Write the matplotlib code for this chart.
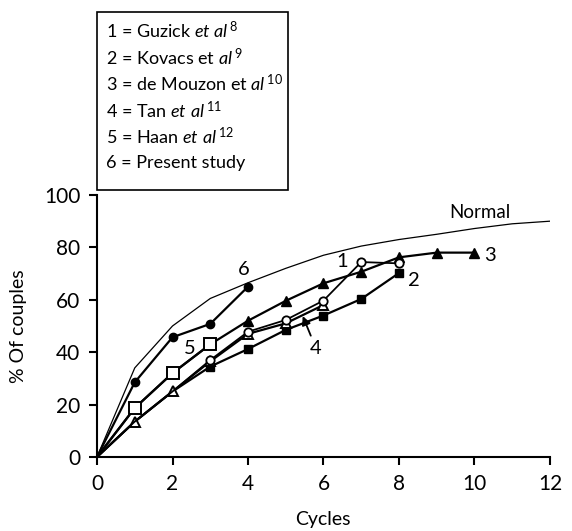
import matplotlib
matplotlib.use('Agg')
import matplotlib.pyplot as plt

plt.rcParams['font.family'] = ['Lato', 'DejaVu Sans']
plt.rcParams['mathtext.fontset'] = 'custom'
plt.rcParams['mathtext.rm'] = 'Lato'
plt.rcParams['mathtext.it'] = 'Lato:italic'

# cumulative % of couples conceiving per cycle
normal_x = [0, 1, 2, 3, 4, 5, 6, 7, 8, 9, 10, 11, 12]
normal_y = [0, 34, 50, 60.5, 66.5, 72, 77, 80.5, 83, 85, 87.2, 89, 90]

guzick_x = [0, 1, 2, 3, 4, 5, 6, 7, 8]
guzick_y = [0, 13.5, 25, 37, 47.8, 52.3, 59.7, 74.4, 73.9]

kovacs_x = [0, 1, 2, 3, 4, 5, 6, 7, 8]
kovacs_y = [0, 13.5, 25, 34.5, 41.2, 48.5, 54, 60.3, 70.2]

mouzon_x = [0, 1, 2, 3, 4, 5, 6, 7, 8, 9, 10]
mouzon_y = [0, 18.7, 32, 43, 52, 59.6, 66.3, 70.7, 76.2, 78, 78]

tan_x = [0, 1, 2, 3, 4, 5, 6]
tan_y = [0, 13.5, 25, 36.5, 47, 51, 58]

haan_x = [0, 1, 2, 3]
haan_y = [0, 18.7, 32, 43]

present_x = [0, 1, 2, 3, 4]
present_y = [0, 28.5, 45.7, 50.8, 65]

legend_lines = [
    r'1 = Guzick $\mathit{et\ al}^{\,8}$',
    r'2 = Kovacs et $\mathit{al}^{\,9}$',
    r'3 = de Mouzon et $\mathit{al}^{\,10}$',
    r'4 = Tan $\mathit{et\ al}^{\,11}$',
    r'5 = Haan $\mathit{et\ al}^{\,12}$',
    '6 = Present study',
]

fig = plt.figure(figsize=(5.72, 5.31), dpi=100)
ax = fig.add_axes([0.1696, 0.1394, 0.7919, 0.4934])

lw = 1.6
ms = 6
ax.plot(normal_x, normal_y, color='black', lw=0.9)
ax.plot(kovacs_x, kovacs_y, color='black', lw=lw, marker='s', ms=ms,
        mfc='black', mec='black', markevery=list(range(3, len(kovacs_x))))
ax.plot(tan_x, tan_y, color='black', lw=lw, marker='^', ms=ms + 1,
        mfc='white', mec='black', mew=1.4, markevery=list(range(1, len(tan_x))))
ax.plot(mouzon_x, mouzon_y, color='black', lw=lw, marker='^', ms=ms + 1.5,
        mfc='black', mec='black', markevery=list(range(4, len(mouzon_x))))
ax.plot(guzick_x, guzick_y, color='black', lw=lw * 0.8, marker='o', ms=ms,
        mfc='white', mec='black', mew=1.3, markevery=list(range(3, len(guzick_x))))
ax.plot(haan_x, haan_y, color='black', lw=lw, marker='s', ms=ms + 2,
        mfc='white', mec='black', mew=1.4, markevery=list(range(1, len(haan_x))))
ax.plot(present_x, present_y, color='black', lw=lw, marker='o', ms=ms,
        mfc='black', mec='black', markevery=list(range(1, len(present_x))))

# series labels
fs_lab = 14.5
ax.text(3.9, 71.5, '6', fontsize=fs_lab, ha='center', va='center')
ax.text(2.45, 41.5, '5', fontsize=fs_lab, ha='center', va='center')
ax.text(6.5, 74.5, '1', fontsize=fs_lab, ha='center', va='center')
ax.text(8.4, 67.3, '2', fontsize=fs_lab, ha='center', va='center')
ax.text(10.4, 76.8, '3', fontsize=fs_lab, ha='center', va='center')
ax.text(10.15, 93.5, 'Normal', fontsize=13.5, ha='center', va='center')
ax.annotate('4', xy=(5.45, 53.8), xytext=(5.8, 41.5), fontsize=fs_lab,
            ha='center', va='center',
            arrowprops=dict(arrowstyle='-|>', color='black', lw=1.3,
                            shrinkA=1, shrinkB=0, mutation_scale=13))

ax.set_xlim(0, 12)
ax.set_ylim(0, 100)
ax.set_xticks(range(0, 13, 2))
ax.set_yticks(range(0, 101, 20))
ax.spines['top'].set_visible(False)
ax.spines['right'].set_visible(False)
for s in ['left', 'bottom']:
    ax.spines[s].set_linewidth(1.5)
ax.tick_params(direction='out', length=6, width=1.5, labelsize=15, pad=6)
ax.set_ylabel('% Of couples', fontsize=14, labelpad=12)
fig.text(323 / 572, 1 - 519 / 531, 'Cycles', fontsize=14,
         ha='center', va='center')

# legend box
box_l, box_b = 97 / 572, 1 - 190 / 531
box_w, box_h = (288 - 97) / 572, (190 - 12) / 531
fig.patches.append(plt.Rectangle((box_l, box_b), box_w, box_h, fill=False,
                                 lw=1.2, ec='black', transform=fig.transFigure))
for i, t in enumerate(legend_lines):
    y = 1 - (31 + i * 26.4) / 531
    fig.text(106 / 572, y, t, fontsize=13, ha='left', va='center')

fig.savefig('out.png', dpi=100)
